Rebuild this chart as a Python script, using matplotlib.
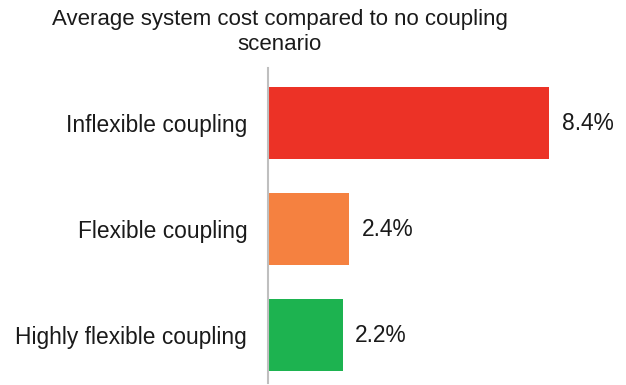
import matplotlib
matplotlib.use("Agg")
import matplotlib.pyplot as plt

categories = ["Inflexible coupling", "Flexible coupling", "Highly flexible coupling"]
values = [8.4, 2.4, 2.2]
labels = ["8.4%", "2.4%", "2.2%"]
colors = ["#EC3226", "#F58140", "#1DB350"]
title = "Average system cost compared to no coupling\nscenario"

plt.rcParams['font.family'] = ['Liberation Sans', 'DejaVu Sans']

fig = plt.figure(figsize=(6.26, 3.85), dpi=100)
ax = fig.add_axes([268/626, 1-383/385, 1-268/626, (383-68)/385])

y = list(range(len(categories)))
ax.barh(y, values, height=0.68, color=colors, left=0.04)
ax.set_ylim(2.45, -0.52)
ax.set_xlim(0, 358/33.3)
ax.set_yticks(y)
ax.set_yticklabels(categories, fontsize=16.4, color="#1a1a1a")
ax.tick_params(axis='y', length=0, pad=15)
ax.set_xticks([])
for s in ["top", "right", "bottom"]:
    ax.spines[s].set_visible(False)
ax.spines["left"].set_color("#BFBFBF")
ax.spines["left"].set_linewidth(1.5)

for yi, v, lab in zip(y, values, labels):
    ax.annotate(lab, (v, yi), xytext=(10, 0), textcoords="offset points",
                va="center", ha="left", fontsize=16.4, color="#1a1a1a")

fig.text(0.447, 1-31.5/385, title, ha="center", va="center", fontsize=16,
         linespacing=1.25, color="#1a1a1a")

fig.savefig("out.png", dpi=100)
